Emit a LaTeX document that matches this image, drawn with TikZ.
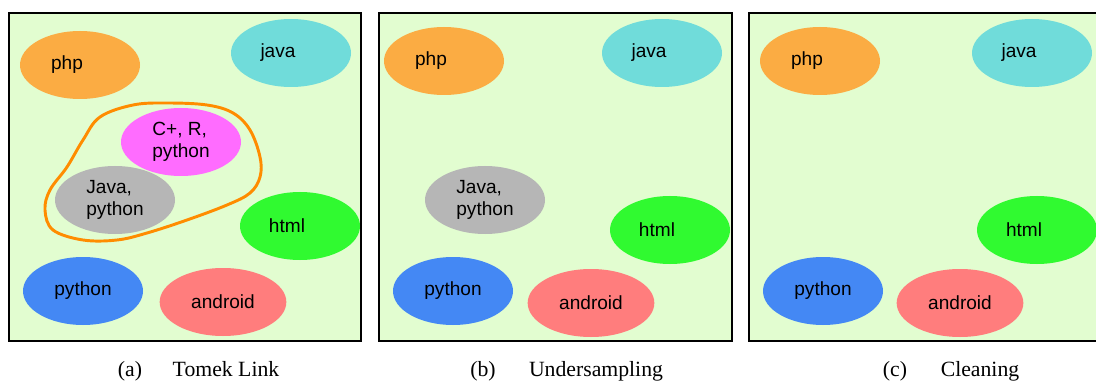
\documentclass[tikz,border=0pt]{standalone}
\usepackage{fontspec}
\setmainfont{Liberation Serif}
\setsansfont{Liberation Sans}
\usepackage{tikz}
\usetikzlibrary{shapes.geometric}
\definecolor{PanelGreen}{RGB}{226,253,208}
\definecolor{PhpOrange}{RGB}{251,172,67}
\definecolor{JavaCyan}{RGB}{112,220,218}
\definecolor{MixMagenta}{RGB}{255,108,255}
\definecolor{MixGray}{RGB}{182,182,182}
\definecolor{HtmlGreen}{RGB}{48,250,48}
\definecolor{PyBlue}{RGB}{68,136,244}
\definecolor{DroidRed}{RGB}{255,125,125}
\definecolor{LinkOrange}{RGB}{255,140,0}
\newcommand{\offtxt}[1]{#1\hspace*{19.5pt}}

\begin{document}
\begin{tikzpicture}[
 x=0.75pt, y=-0.75pt,
 panel/.style={draw=black, line width=1.5pt, fill=PanelGreen},
 blob/.style={ellipse, inner sep=0pt, minimum width=90pt, minimum height=51pt, font=\sffamily\fontsize{14.3}{16.5}\selectfont},
 wideblob/.style={blob, minimum width=95pt},
 twoline/.style={align=left},
 caption/.style={anchor=base, font=\fontsize{16.3}{19}\selectfont},
 link/.style={draw=LinkOrange, line width=2.2pt}
]
\useasboundingbox (0,0) rectangle (1096,381);
\clip (0,0) rectangle (1096,381);

% panels
\draw[panel] (9,13) rectangle (361,341);
\draw[panel] (379,13) rectangle (732,341);
\draw[panel] (749,13) rectangle (1115,341);

% (a) Tomek Link
\node[blob, fill=PhpOrange] (a-php) at (80,65) {\offtxt{php}};
\node[blob, fill=JavaCyan] (a-java) at (291,53) {\offtxt{java}};
\node[blob, twoline, fill=MixMagenta] (a-mix) at (181,142) {C+, R,\\python};
\node[blob, twoline, fill=MixGray] (a-jp) at (115,200) {Java,\\python};
\node[blob, fill=HtmlGreen] (a-html) at (300,226) {\offtxt{html}};
\node[blob, fill=PyBlue] (a-py) at (83,291) {python};
\node[wideblob, fill=DroidRed] (a-droid) at (223,302) {android};
\draw[link] plot[smooth cycle, tension=0.6] coordinates {
 (133,105) (167,103) (207,105) (233,113) (250,130) (260,157) (260,177)
 (250,193) (227,205) (187,220) (147,233) (117,240) (83,240) (53,230)
 (45,210) (50,190) (67,167) (83,140) (100,117)};

% (b) Undersampling
\node[blob, fill=PhpOrange] (b-php) at (444,61) {\offtxt{php}};
\node[blob, fill=JavaCyan] (b-java) at (662,53) {\offtxt{java}};
\node[blob, twoline, fill=MixGray] (b-jp) at (485,200) {Java,\\python};
\node[blob, fill=HtmlGreen] (b-html) at (670,230) {\offtxt{html}};
\node[blob, fill=PyBlue] (b-py) at (453,291) {python};
\node[wideblob, fill=DroidRed] (b-droid) at (591,303) {android};

% (c) Cleaning
\node[blob, fill=PhpOrange] (c-php) at (820,61) {\offtxt{php}};
\node[blob, fill=JavaCyan] (c-java) at (1032,53) {\offtxt{java}};
\node[blob, fill=HtmlGreen] (c-html) at (1037,230) {\offtxt{html}};
\node[blob, fill=PyBlue] (c-py) at (823,291) {python};
\node[wideblob, fill=DroidRed] (c-droid) at (960,303) {android};

% captions
\node[caption] (cap-a-tag) at (130,376) {(a)};
\node[caption] (cap-a) at (226,376) {Tomek Link};
\node[caption] (cap-b-tag) at (483,376) {(b)};
\node[caption] (cap-b) at (596,376) {Undersampling};
\node[caption] (cap-c-tag) at (895,376) {(c)};
\node[caption] (cap-c) at (980,376) {Cleaning};
\end{tikzpicture}
\end{document}
